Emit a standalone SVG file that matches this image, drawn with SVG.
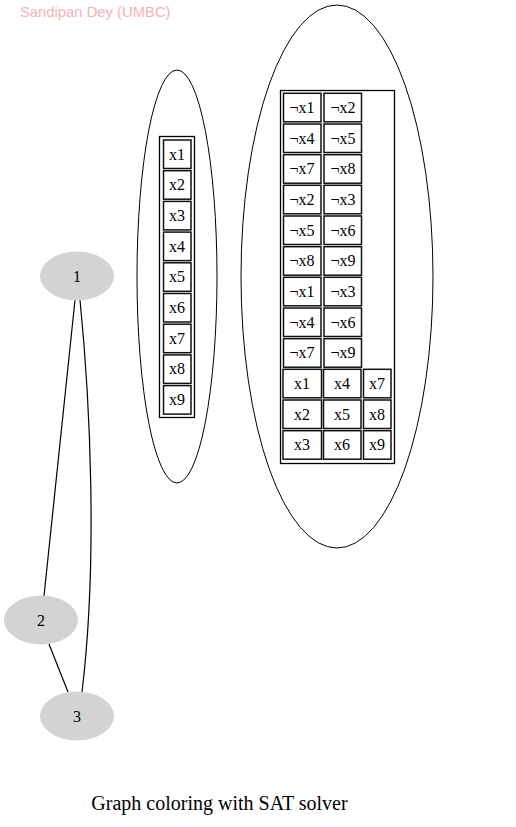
<svg xmlns="http://www.w3.org/2000/svg" width="516" height="827" viewBox="0 0 516 827">
<style>
.bg{fill:#fff}
.gn{fill:#d3d3d3;stroke:#d3d3d3}
.el{fill:none;stroke:#000;stroke-width:1}
.tb{fill:none;stroke:#000;stroke-width:1.3}
.cl{fill:none;stroke:#111;stroke-width:1.5}
.t{font-family:"Liberation Serif","Times New Roman",serif;font-size:16px;fill:#000;text-anchor:middle}
.e{fill:none;stroke:#000;stroke-width:1.2}
.wm{font-family:"Liberation Sans",Arial,sans-serif;font-size:14.8px;fill:#f6b3b3}
.title{font-family:"Liberation Serif","Times New Roman",serif;font-size:20px;fill:#000;text-anchor:middle}
</style>
<rect class="bg" x="0" y="0" width="516" height="827"/>
<text class="wm" x="20" y="16.5">Sandipan Dey (UMBC)</text>
<g id="edges">
<path class="e" d="M75,300 L44,596"/>
<path class="e" d="M80,300 C90,400 98,560 82,692"/>
<path class="e" d="M49,644 L68,692"/>
</g>
<g id="n1"><ellipse class="gn" cx="77" cy="276" rx="36.5" ry="24"/><text class="t" x="77" y="281.5">1</text></g>
<g id="n2"><ellipse class="gn" cx="41" cy="620" rx="36.5" ry="24"/><text class="t" x="41" y="625.5">2</text></g>
<g id="n3"><ellipse class="gn" cx="77" cy="716" rx="36.5" ry="24"/><text class="t" x="77" y="721.5">3</text></g>
<g id="vars">
<ellipse class="el" cx="177" cy="276.5" rx="40" ry="206.5"/>
<rect class="tb" x="159.5" y="136.5" width="35" height="281"/>
<g class="cells">
<rect class="cl" x="163.5" y="140" width="27.5" height="28.5"/><text class="t" x="177" y="159.5">x1</text>
<rect class="cl" x="163.5" y="170.7" width="27.5" height="28.5"/><text class="t" x="177" y="190.2">x2</text>
<rect class="cl" x="163.5" y="201.4" width="27.5" height="28.5"/><text class="t" x="177" y="220.9">x3</text>
<rect class="cl" x="163.5" y="232.1" width="27.5" height="28.5"/><text class="t" x="177" y="251.6">x4</text>
<rect class="cl" x="163.5" y="262.8" width="27.5" height="28.5"/><text class="t" x="177" y="282.3">x5</text>
<rect class="cl" x="163.5" y="293.5" width="27.5" height="28.5"/><text class="t" x="177" y="313">x6</text>
<rect class="cl" x="163.5" y="324.2" width="27.5" height="28.5"/><text class="t" x="177" y="343.7">x7</text>
<rect class="cl" x="163.5" y="354.9" width="27.5" height="28.5"/><text class="t" x="177" y="374.4">x8</text>
<rect class="cl" x="163.5" y="385.6" width="27.5" height="28.5"/><text class="t" x="177" y="405.1">x9</text>
</g>
</g>
<g id="clauses">
<ellipse class="el" cx="337" cy="276.5" rx="96" ry="271.5"/>
<rect class="tb" x="280.5" y="90.5" width="114" height="373"/>
<g class="cells">
<rect class="cl" x="283.5" y="93.3" width="37.5" height="28.5"/><text class="t" x="302" y="112.8">¬x1</text>
<rect class="cl" x="324" y="93.3" width="37.5" height="28.5"/><text class="t" x="343" y="112.8">¬x2</text>
<rect class="cl" x="283.5" y="124" width="37.5" height="28.5"/><text class="t" x="302" y="143.5">¬x4</text>
<rect class="cl" x="324" y="124" width="37.5" height="28.5"/><text class="t" x="343" y="143.5">¬x5</text>
<rect class="cl" x="283.5" y="154.7" width="37.5" height="28.5"/><text class="t" x="302" y="174.2">¬x7</text>
<rect class="cl" x="324" y="154.7" width="37.5" height="28.5"/><text class="t" x="343" y="174.2">¬x8</text>
<rect class="cl" x="283.5" y="185.3" width="37.5" height="28.5"/><text class="t" x="302" y="204.8">¬x2</text>
<rect class="cl" x="324" y="185.3" width="37.5" height="28.5"/><text class="t" x="343" y="204.8">¬x3</text>
<rect class="cl" x="283.5" y="216" width="37.5" height="28.5"/><text class="t" x="302" y="235.5">¬x5</text>
<rect class="cl" x="324" y="216" width="37.5" height="28.5"/><text class="t" x="343" y="235.5">¬x6</text>
<rect class="cl" x="283.5" y="246.7" width="37.5" height="28.5"/><text class="t" x="302" y="266.2">¬x8</text>
<rect class="cl" x="324" y="246.7" width="37.5" height="28.5"/><text class="t" x="343" y="266.2">¬x9</text>
<rect class="cl" x="283.5" y="277.3" width="37.5" height="28.5"/><text class="t" x="302" y="296.8">¬x1</text>
<rect class="cl" x="324" y="277.3" width="37.5" height="28.5"/><text class="t" x="343" y="296.8">¬x3</text>
<rect class="cl" x="283.5" y="308" width="37.5" height="28.5"/><text class="t" x="302" y="327.5">¬x4</text>
<rect class="cl" x="324" y="308" width="37.5" height="28.5"/><text class="t" x="343" y="327.5">¬x6</text>
<rect class="cl" x="283.5" y="338.7" width="37.5" height="28.5"/><text class="t" x="302" y="358.2">¬x7</text>
<rect class="cl" x="324" y="338.7" width="37.5" height="28.5"/><text class="t" x="343" y="358.2">¬x9</text>
<rect class="cl" x="283" y="369.3" width="38.5" height="28.5"/><text class="t" x="302" y="388.8">x1</text>
<rect class="cl" x="323.5" y="369.3" width="37.5" height="28.5"/><text class="t" x="342" y="388.8">x4</text>
<rect class="cl" x="363.5" y="369.3" width="27.5" height="28.5"/><text class="t" x="377" y="388.8">x7</text>
<rect class="cl" x="283" y="400" width="38.5" height="28.5"/><text class="t" x="302" y="419.5">x2</text>
<rect class="cl" x="323.5" y="400" width="37.5" height="28.5"/><text class="t" x="342" y="419.5">x5</text>
<rect class="cl" x="363.5" y="400" width="27.5" height="28.5"/><text class="t" x="377" y="419.5">x8</text>
<rect class="cl" x="283" y="430.7" width="38.5" height="28.5"/><text class="t" x="302" y="450.2">x3</text>
<rect class="cl" x="323.5" y="430.7" width="37.5" height="28.5"/><text class="t" x="342" y="450.2">x6</text>
<rect class="cl" x="363.5" y="430.7" width="27.5" height="28.5"/><text class="t" x="377" y="450.2">x9</text>
</g>
</g>
<text class="title" x="219.5" y="810">Graph coloring with SAT solver</text>
</svg>
